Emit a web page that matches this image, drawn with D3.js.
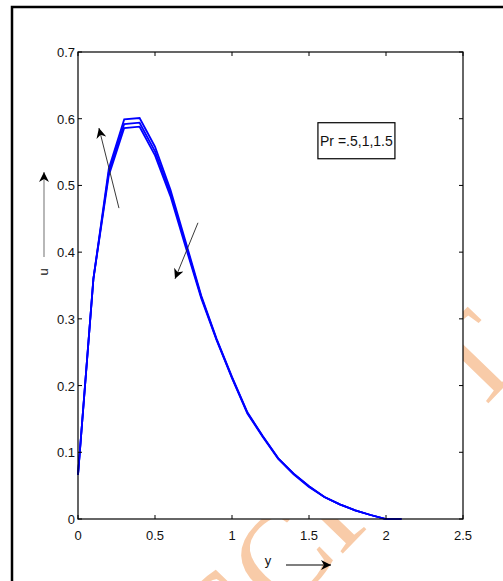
<!DOCTYPE html>
<html>
<head>
<meta charset="utf-8">
<script src="https://cdn.jsdelivr.net/npm/d3@7"></script>
<style>
  html, body { margin: 0; padding: 0; background: #fff; }
  svg { display: block; }
  .tick-label { font-family: 'Liberation Sans Narrow', 'Arial Narrow', 'Liberation Sans', sans-serif; font-size: 13px; fill: #111; }
</style>
</head>
<body>
<svg id="chart" width="503" height="581"></svg>
<script>
// ---- data ----
const xValues = [0, 0.1, 0.2, 0.3, 0.4, 0.5, 0.6, 0.7, 0.8, 0.9, 1.0, 1.1, 1.2, 1.3, 1.4, 1.5, 1.6, 1.7, 1.8, 1.9, 2.0, 2.1];
const uPr05  = [0.066, 0.36, 0.525, 0.599, 0.601, 0.558, 0.494, 0.415, 0.335, 0.270, 0.213, 0.160, 0.124, 0.091, 0.068, 0.049, 0.033, 0.022, 0.013, 0.006, 0.0, 0.0];
const uPr1   = [0.066, 0.36, 0.520, 0.592, 0.594, 0.551, 0.489, 0.411, 0.333, 0.269, 0.212, 0.159, 0.124, 0.091, 0.068, 0.049, 0.033, 0.022, 0.013, 0.006, 0.0, 0.0];
const uPr15  = [0.066, 0.36, 0.515, 0.586, 0.588, 0.545, 0.484, 0.407, 0.331, 0.268, 0.211, 0.158, 0.123, 0.090, 0.067, 0.048, 0.033, 0.022, 0.013, 0.006, 0.0, 0.0];
const xTicks = [0, 0.5, 1, 1.5, 2, 2.5];
const xTickLabels = ["0", "0.5", "1", "1.5", "2", "2.5"];
const yTicks = [0, 0.1, 0.2, 0.3, 0.4, 0.5, 0.6, 0.7];
const yTickLabels = ["0", "0.1", "0.2", "0.3", "0.4", "0.5", "0.6", "0.7"];
const legendText = "Pr =.5,1,1.5";
const xLabel = "y";
const yLabel = "u";
// annotation arrows in data units: [fromX, fromU, toX, toU]
const arrowUp = [0.266, 0.466, 0.136, 0.586];
const arrowDown = [0.779, 0.444, 0.630, 0.360];

// ---- layout ----
const svg = d3.select("#chart");
const W = 503, H = 581;
const mLeft = 78, mRight = 463, mTop = 52, mBottom = 519;
const x = d3.scaleLinear().domain([0, 2.5]).range([mLeft, mRight]);
const y = d3.scaleLinear().domain([0, 0.7]).range([mBottom, mTop]);

svg.append("rect").attr("width", W).attr("height", H).attr("fill", "#fff");

// watermark (visible only outside the axes)
svg.append("text")
  .attr("transform", "translate(528,362) rotate(-46)")
  .attr("text-anchor", "end")
  .attr("font-family", "'Liberation Serif', 'DejaVu Serif', serif")
  .attr("font-size", 125)
  .attr("fill", "#f8cba8")
  .text("ACCEPTED MANUSCRIPT");

// outer figure border
svg.append("rect")
  .attr("x", 12).attr("y", 7).attr("width", 520).attr("height", 600)
  .attr("fill", "none").attr("stroke", "#000").attr("stroke-width", 2.5);

// axes background
svg.append("rect")
  .attr("x", mLeft).attr("y", mTop).attr("width", mRight - mLeft).attr("height", mBottom - mTop)
  .attr("fill", "#fff");

// data lines
const line = d3.line().x((d, i) => x(xValues[i])).y(d => y(d));
[uPr15, uPr1, uPr05].forEach(s => {
  svg.append("path").datum(s).attr("d", line)
    .attr("fill", "none").attr("stroke", "#0000ff").attr("stroke-width", 1.8)
    .attr("stroke-linejoin", "miter");
});

// axes box
svg.append("rect")
  .attr("x", mLeft).attr("y", mTop).attr("width", mRight - mLeft).attr("height", mBottom - mTop)
  .attr("fill", "none").attr("stroke", "#000").attr("stroke-width", 1.2);

// ticks (inward on all four sides)
const tl = 4;
const g = svg.append("g").attr("stroke", "#000").attr("stroke-width", 1);
xTicks.forEach(t => {
  g.append("line").attr("x1", x(t)).attr("x2", x(t)).attr("y1", mBottom).attr("y2", mBottom - tl);
  g.append("line").attr("x1", x(t)).attr("x2", x(t)).attr("y1", mTop).attr("y2", mTop + tl);
});
yTicks.forEach(t => {
  g.append("line").attr("x1", mLeft).attr("x2", mLeft + tl).attr("y1", y(t)).attr("y2", y(t));
  g.append("line").attr("x1", mRight).attr("x2", mRight - tl).attr("y1", y(t)).attr("y2", y(t));
});

// tick labels
xTicks.forEach((t, i) => {
  svg.append("text").attr("class", "tick-label")
    .attr("x", x(t)).attr("y", mBottom + 21).attr("text-anchor", "middle").text(xTickLabels[i]);
});
yTicks.forEach((t, i) => {
  svg.append("text").attr("class", "tick-label")
    .attr("x", mLeft - 3).attr("y", y(t) + 5).attr("text-anchor", "end").text(yTickLabels[i]);
});

// arrow marker
const defs = svg.append("defs");
defs.append("marker").attr("id", "ah").attr("viewBox", "0 0 10 10")
  .attr("refX", 10).attr("refY", 5).attr("markerWidth", 13).attr("markerHeight", 10)
  .attr("markerUnits", "userSpaceOnUse").attr("orient", "auto")
  .append("path").attr("d", "M0,0 L10,5 L0,10 L3,5 Z").attr("fill", "#000");

function arrow(a, color, sw) {
  svg.append("line")
    .attr("x1", x(a[0])).attr("y1", y(a[1])).attr("x2", x(a[2])).attr("y2", y(a[3]))
    .attr("stroke", color).attr("stroke-width", sw).attr("marker-end", "url(#ah)");
}
arrow(arrowUp, "#222", 0.9);
arrow(arrowDown, "#222", 0.9);

// legend box
const lbX0 = 1.558, lbX1 = 2.058, lbU0 = 0.594, lbU1 = 0.540;
svg.append("rect")
  .attr("x", x(lbX0)).attr("y", y(lbU0)).attr("width", x(lbX1) - x(lbX0)).attr("height", y(lbU1) - y(lbU0))
  .attr("fill", "#fff").attr("stroke", "#000").attr("stroke-width", 1.2);
svg.append("text").attr("class", "tick-label").style("font-size", "14px")
  .attr("x", (x(lbX0) + x(lbX1)) / 2).attr("y", (y(lbU0) + y(lbU1)) / 2 + 5)
  .attr("text-anchor", "middle").text(legendText);

// axis labels with arrows
svg.append("text").attr("class", "tick-label")
  .attr("x", 268).attr("y", 565).attr("text-anchor", "middle").text(xLabel);
svg.append("line").attr("x1", 286).attr("y1", 565).attr("x2", 331).attr("y2", 565)
  .attr("stroke", "#000").attr("stroke-width", 1.2).attr("marker-end", "url(#ah)");

svg.append("text").attr("class", "tick-label")
  .attr("transform", "translate(48,272) rotate(-90)").attr("text-anchor", "middle").text(yLabel);
svg.append("line").attr("x1", 44).attr("y1", 257).attr("x2", 44).attr("y2", 172)
  .attr("stroke", "#888").attr("stroke-width", 1.2).attr("marker-end", "url(#ah)");
</script>
</body>
</html>
